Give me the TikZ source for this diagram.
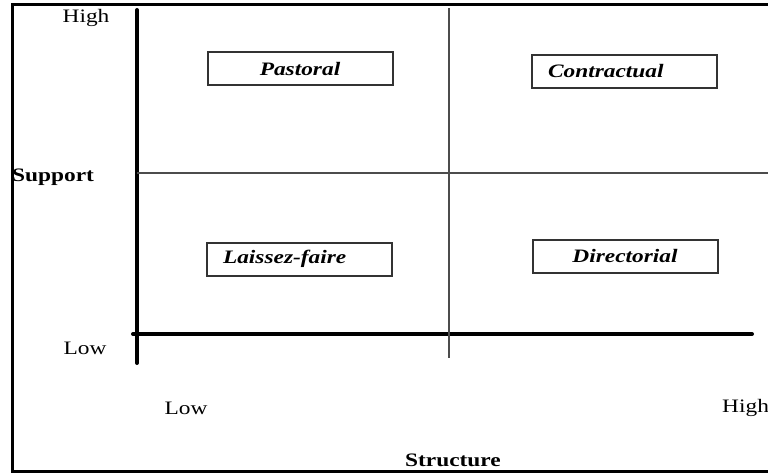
\documentclass[tikz,border=0pt]{standalone}
\usepackage{fontspec}
\setmainfont{Liberation Serif}[FakeStretch=1.23]
\begin{document}
\begin{tikzpicture}[x=1pt,y=-1pt,
  frame/.style={line width=3pt},
  axis/.style={line width=4pt, line cap=round},
  divider/.style={line width=1.2pt, draw=black!70},
  quad/.style={draw=black!80, line width=2pt, minimum width=185pt, minimum height=33pt,
    inner sep=0pt, font=\fontsize{19}{22}\selectfont\bfseries\itshape},
  quadleft/.style={quad, text width=153pt, align=left, inner xsep=16pt},
  lbl/.style={font=\fontsize{19}{22}\selectfont, inner sep=0pt},
  title/.style={lbl, font=\fontsize{19}{22}\selectfont\bfseries},
]
\useasboundingbox (0,0) rectangle (768,473);

% outer frame (open on the right)
\draw[frame] (790,5) -- (12,5) -- (12,471) -- (790,471);

% axes
\coordinate (ytop) at (137,10);
\coordinate (ybot) at (137,363);
\coordinate (xleft) at (133,334);
\coordinate (xright) at (752,334);
\draw[axis] (ytop) -- (ybot);
\draw[axis] (xleft) -- (xright);

% quadrant dividers
\coordinate (vtop) at (449,8);
\coordinate (vbot) at (449,358);
\coordinate (hleft) at (137,173);
\coordinate (hright) at (770,173);
\draw[divider] (vtop) -- (vbot);
\draw[divider] (hleft) -- (hright);

% quadrant labels
\node[quad] (pastoral) at (300,69) {Pastoral};
\node[quadleft] (contractual) at (624.5,71.5) {Contractual};
\node[quadleft] (laissez) at (299.5,259) {Laissez-faire};
\node[quad] (directorial) at (625,256.5) {Directorial};

% axis labels
\node[lbl] (yhigh) at (86,18) {High};
\node[title, anchor=west] (support) at (12,177) {Support};
\node[lbl] (ylow) at (85,348) {Low};
\node[lbl] (xlow) at (186,408) {Low};
\node[lbl, anchor=west] (xhigh) at (722,408) {High};
\node[title] (structure) at (453,460) {Structure};
\end{tikzpicture}
\end{document}
